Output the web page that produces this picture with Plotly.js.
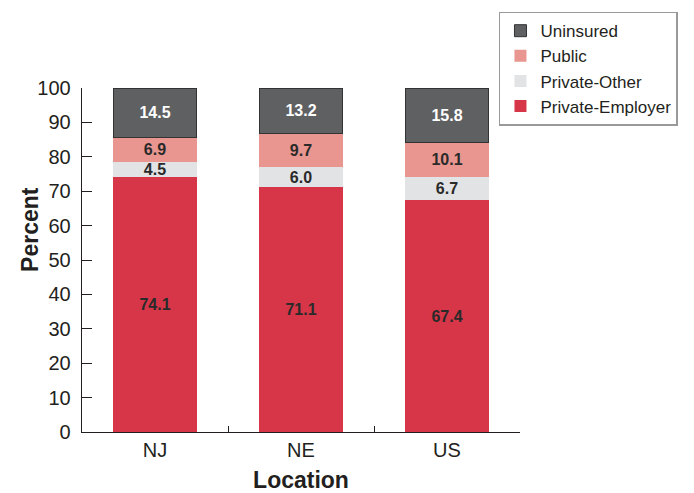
<!DOCTYPE html>
<html>
<head>
<meta charset="utf-8">
<script src="https://cdn.plot.ly/plotly-3.0.1.min.js"></script>
<style>html,body{margin:0;padding:0;background:#fff;}#chart{width:694px;height:493px;}</style>
</head>
<body>
<div id="chart"></div>
<script>
const locations = ["NJ", "NE", "US"];
const privateEmployer = [74.1, 71.1, 67.4];
const privateOther = [4.5, 6.0, 6.7];
const publicIns = [6.9, 9.7, 10.1];
const uninsured = [14.5, 13.2, 15.8];

function tr(name, vals, color, textColor, lineColor) {
  return {
    type: "bar", name: name, x: locations, y: vals,
    text: vals.map(v => v.toFixed(1)), textposition: "inside",
    insidetextanchor: "middle",
    textfont: {family: "Liberation Sans, Arial, sans-serif", size: 16, color: textColor, weight: "bold"},
    marker: {color: color, line: {color: lineColor || color, width: lineColor ? 1 : 0}},
    hoverinfo: "none"
  };
}
const data = [
  tr("Private-Employer", privateEmployer, "#d73648", "#2a2a2a"),
  tr("Private-Other", privateOther, "#e2e3e4", "#2a2a2a"),
  tr("Public", publicIns, "#e8968f", "#2a2a2a"),
  tr("Uninsured", uninsured, "#5f6062", "#ffffff", "#333333")
];
const layout = {
  width: 694, height: 493,
  margin: {l: 82, r: 174, t: 86, b: 61},
  barmode: "stack", bargap: 0.43,
  font: {family: "Liberation Sans, Arial, sans-serif", color: "#231f20"},
  plot_bgcolor: "#fff", paper_bgcolor: "#fff",
  uniformtext: {mode: "show", minsize: 16},
  xaxis: {
    title: {text: "<b>Location</b>", font: {size: 23}, standoff: 14},
    tickfont: {size: 20}, showline: true, linecolor: "#231f20", linewidth: 1.3,
    ticks: "inside", tickson: "boundaries", ticklen: 6, tickcolor: "#231f20",
    showgrid: false, zeroline: false, automargin: false
  },
  yaxis: {
    range: [0, 100], dtick: 10, tickfont: {size: 20},
    showline: true, linecolor: "#231f20", linewidth: 1.3,
    ticks: "inside", ticklen: 10, tickcolor: "#231f20", ticklabelstandoff: 6,
    showgrid: false, zeroline: false, automargin: false
  },
  annotations: [{
    text: "<b>Percent</b>", xref: "paper", yref: "paper",
    x: -0.119, y: 0.59, xanchor: "center", yanchor: "middle",
    textangle: -90, showarrow: false, font: {size: 23}
  }],
  legend: {
    x: 0.952, y: 1.222, xanchor: "left", yanchor: "top",
    traceorder: "reversed", bordercolor: "#999", borderwidth: 1.5,
    font: {size: 17}, tracegroupgap: 0, itemwidth: 30
  },
  showlegend: true
};
Plotly.newPlot("chart", data, layout, {displayModeBar: false, staticPlot: true});
</script>
</body>
</html>
